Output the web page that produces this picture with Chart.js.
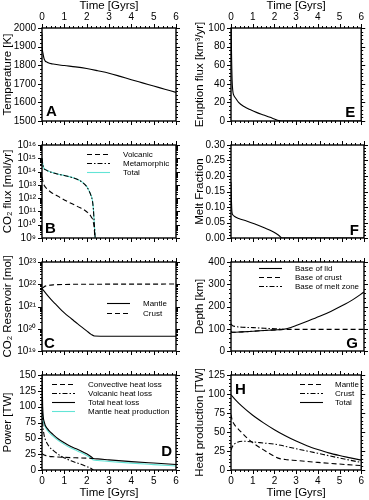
<!DOCTYPE html>
<html>
<head>
<meta charset="utf-8">
<script src="https://cdn.jsdelivr.net/npm/chart.js@4.4.1/dist/chart.umd.min.js"></script>
<style>
  html, body { margin: 0; padding: 0; background: #fff; }
  #fig { position: relative; width: 369px; height: 500px; overflow: hidden; background: #fff; }
</style>
</head>
<body>
<div id="fig"></div>
<script>
// ---- data ----

// A: mantle temperature [K]
var tempTime = [0, 0.01, 0.04, 0.1, 0.25, 0.5, 1, 1.5, 2, 2.5, 3, 3.5, 4, 4.5, 5, 5.5, 6];
var temperature = [1970, 1900, 1866, 1832, 1815, 1806, 1798, 1791, 1782, 1770, 1757, 1740, 1722, 1705, 1688, 1671, 1654];

// E: eruption flux [km3/yr]
var eruptTime = [0, 0.02, 0.05, 0.08, 0.12, 0.2, 0.35, 0.6, 0.9, 1.2, 1.5, 1.8, 2.0, 2.2, 2.3, 6];
var eruptionFlux = [130, 80, 45, 33, 28, 25, 20, 15.5, 12, 9, 6.5, 4, 2.2, 0.5, 0, 0];

// B: CO2 flux [mol/yr]
var co2Time = [0, 0.03, 0.08, 0.15, 0.4, 0.7, 1.0, 1.3, 1.6, 1.8, 2.0, 2.1, 2.2, 2.26, 2.3, 2.34, 2.38, 2.4];
var co2Metamorphic = [1e15, 4e14, 1.8e14, 1.4e14, 9e13, 6.5e13, 5e13, 3.8e13, 2.5e13, 1.6e13, 7.5e12, 3.8e12, 1.5e12, 6e11, 1.5e11, 1.2e10, 1e9, 1e8];
var co2Total = [1.04e15, 4.1e14, 1.85e14, 1.45e14, 9.3e13, 6.6e13, 5.1e13, 3.85e13, 2.52e13, 1.61e13, 7.6e12, 3.84e12, 1.54e12, 6.3e11, 1.6e11, 1.4e10, 1e9, 1e8];
var volcTime = [0, 0.05, 0.1, 0.2, 0.4, 0.75, 1.1, 1.6, 2.0, 2.2, 2.3, 2.35, 2.38];
var co2Volcanic = [4e13, 1.5e13, 9e12, 5.5e12, 2.8e12, 1.3e12, 6e11, 2.3e11, 9.5e10, 4e10, 1.5e10, 3e9, 1e8];

// F: melt fraction
var meltTime = [0, 0.02, 0.04, 0.08, 0.15, 0.35, 0.7, 1.05, 1.5, 1.9, 2.15, 2.3, 6];
var meltFraction = [0.18, 0.12, 0.085, 0.075, 0.07, 0.063, 0.055, 0.046, 0.033, 0.02, 0.009, 0, 0];

// C: CO2 reservoirs [mol]
var mantleResTime = [0, 0.2, 0.4, 0.6, 0.8, 1.0, 1.2, 1.4, 1.6, 1.8, 2.0, 2.2, 2.35, 3, 4, 5, 6];
var mantleCO2 = [6.4e21, 3.6e21, 2.1e21, 1.3e21, 8e20, 5.2e20, 3.5e20, 2.4e20, 1.65e20, 1.15e20, 8e19, 5.6e19, 4.7e19, 4.6e19, 4.6e19, 4.6e19, 4.6e19];
var crustResTime = [0, 0.1, 0.25, 0.5, 1, 2, 3, 6];
var crustCO2 = [6.4e21, 7.8e21, 8.7e21, 9.4e21, 9.8e21, 1e22, 1.01e22, 1.02e22];

// G: depths [km]
var lidTime = [0, 0.05, 0.5, 1, 1.5, 2, 2.35, 2.7, 3, 3.5, 4, 4.5, 5, 5.5, 6];
var lidDepth = [88, 84, 86, 89, 92, 95, 97, 106, 117, 136, 156, 178, 203, 231, 265];
var crustBaseTime = [0, 0.05, 0.5, 1, 1.5, 2, 2.35, 6];
var crustBase = [88, 84, 86, 89, 92, 95, 97, 97];
var meltZoneTime = [0, 0.05, 0.2, 0.5, 1, 1.5, 2, 2.35];
var meltZoneBase = [122, 115, 110, 107, 105, 102, 100, 97];

// D: power [TW]
var totalLossTime = [0, 0.03, 0.1, 0.25, 0.5, 0.75, 1.0, 1.25, 1.5, 1.75, 2.0, 2.2, 2.3, 2.5, 3, 4, 5, 6];
var totalHeatLoss = [160, 100, 76, 65, 56, 48.5, 43, 38, 34, 30, 25.5, 21, 18.2, 17.5, 16, 13.3, 11, 8.8];
var convTime = [0, 0.1, 0.25, 0.5, 1, 1.5, 2, 2.3];
var convectiveLoss = [26, 23.5, 22, 21, 20, 19.3, 18.7, 18.2];
var volcLossTime = [0, 0.03, 0.08, 0.15, 0.3, 0.5, 0.85, 1.3, 1.75, 2.0, 2.2, 2.3];
var volcanicLoss = [110, 75, 58, 48, 38, 31, 22, 14.5, 9, 5.5, 2.5, 0];
var mantleProdTime = [0, 0.05, 0.1, 0.25, 0.5, 0.75, 1, 1.25, 1.5, 1.75, 2, 2.2, 2.3, 2.5, 3, 4, 5, 6];
var mantleHeatProd = [100, 80, 72, 62, 53, 46, 40.5, 35.5, 31.5, 27.5, 23, 18.5, 15.8, 15, 13.5, 10.8, 8.5, 6.3];

// H: heat production [TW]
var heatTime = [0, 0.25, 0.5, 1, 1.5, 2, 2.5, 3, 3.5, 4, 4.5, 5, 5.5, 6];
var heatTotal = [99, 91, 84, 72, 62, 53, 45, 38, 32, 27, 22.5, 19, 16, 13];
var mantleHeatTime = [0, 0.05, 0.15, 0.3, 0.5, 0.75, 1, 1.25, 1.5, 1.75, 2, 2.25, 2.5, 3, 4, 5, 6];
var mantleHeat = [73, 66, 60, 55, 49, 42, 36, 31, 26.5, 22, 18, 15, 13.8, 12.5, 10, 7.8, 5.8];
var crustHeatTime = [0, 0.05, 0.15, 0.3, 0.6, 1, 1.5, 2, 2.3, 2.6, 3, 3.5, 4, 4.5, 5, 5.5, 6];
var crustHeat = [26, 30, 34, 36.5, 37.8, 37, 35.5, 34, 32.5, 30.5, 28, 25, 22, 18.8, 15.8, 12.8, 10];

// ---- styling / layout ----
var FONT = "'Liberation Sans', Arial, Helvetica, sans-serif";
Chart.defaults.font.family = FONT;
Chart.defaults.color = '#000';

var SOLID = [], DASH = [5, 3], DASHDOT = [5, 2, 1.5, 2];
var CYAN = '#62e4d6';
var SUP = '⁰¹²³⁴⁵⁶⁷⁸⁹';

var COLS = {
  L: { x0: 0, w: 185, left: 42, right: 176, titleX: 7.5 },
  R: { x0: 185, w: 184, left: 231, right: 364, titleX: 15 }
};
var ROWS = [
  { y0: 0, h: 133, top: 28, bottom: 125, x: 'top' },
  { y0: 133, h: 117, top: 140, bottom: 242 },
  { y0: 250, h: 113, top: 258, bottom: 355 },
  { y0: 363, h: 137, top: 371, bottom: 470, x: 'bottom' }
];

function pts(t, v) {
  return t.map(function (x, i) { return { x: x, y: v[i] }; });
}

function curve(label, t, v, dash, color) {
  return {
    label: label,
    data: pts(t, v),
    borderColor: color || '#000',
    borderWidth: 1.1,
    borderDash: dash,
    pointRadius: 0,
    fill: false,
    cubicInterpolationMode: 'monotone'
  };
}

function pow10Label(v) {
  var e = Math.round(Math.log10(v));
  return '10' + String(e).split('').map(function (c) { return SUP[+c]; }).join('');
}

function linTicks(min, max, step, sub) {
  var out = [], n = Math.round((max - min) / step * sub);
  for (var i = 0; i <= n; i++) out.push({ v: min + i * step / sub, major: i % sub === 0 });
  return out;
}

function logTicks(e0, e1) {
  var out = [];
  for (var e = e0; e <= e1; e++) {
    out.push({ v: Math.pow(10, e), major: true });
    if (e < e1) for (var k = 2; k <= 9; k++) out.push({ v: k * Math.pow(10, e), major: false });
  }
  return out;
}

// frame, outward ticks on all four sides, y title, panel letter and legend
var panelDecor = {
  id: 'panelDecor',
  afterDatasetsDraw: function (chart, args, o) {
    var ctx = chart.ctx, a = chart.chartArea, x = chart.scales.x, y = chart.scales.y;
    ctx.save();
    ctx.setLineDash([]);
    ctx.strokeStyle = '#000';
    ctx.lineWidth = 1;
    ctx.beginPath();
    for (var i = 0; i <= 30; i++) {
      var px = Math.round(x.getPixelForValue(i / 5)) + 0.5;
      var len = i % 5 ? 2 : 4;
      ctx.moveTo(px, a.top); ctx.lineTo(px, a.top - len);
      ctx.moveTo(px, a.bottom); ctx.lineTo(px, a.bottom + len);
    }
    o.yTicks.forEach(function (tk) {
      var py = Math.round(y.getPixelForValue(tk.v)) + 0.5;
      var len = tk.major ? 4 : 2;
      ctx.moveTo(a.left, py); ctx.lineTo(a.left - len, py);
      ctx.moveTo(a.right, py); ctx.lineTo(a.right + len, py);
    });
    ctx.stroke();
    ctx.lineWidth = 1.4;
    ctx.strokeRect(a.left, a.top, a.right - a.left, a.bottom - a.top);

    // y axis title (drawn here so it may run past the plot height)
    ctx.save();
    ctx.translate(o.titleX, (a.top + a.bottom) / 2);
    ctx.rotate(-Math.PI / 2);
    ctx.font = '11.5px ' + FONT;
    ctx.fillStyle = '#000';
    ctx.textAlign = 'center';
    ctx.textBaseline = 'middle';
    ctx.fillText(o.yTitle, 0, 0);
    ctx.restore();

    // panel letter
    var L = o.letter;
    ctx.font = 'bold 15px ' + FONT;
    ctx.fillStyle = '#000';
    ctx.textBaseline = 'alphabetic';
    ctx.textAlign = L.left !== undefined ? 'left' : 'right';
    var lx = L.left !== undefined ? a.left + L.left : a.right - L.right;
    var ly = L.bottom !== undefined ? a.bottom - L.bottom : a.top + L.top;
    ctx.fillText(L.t, lx, ly);

    // legend
    if (o.legend) {
      var lg = o.legend;
      ctx.font = '8px ' + FONT;
      ctx.textAlign = 'left';
      ctx.textBaseline = 'middle';
      lg.items.forEach(function (name, k) {
        var ds = chart.data.datasets.filter(function (d) { return d.label === name; })[0];
        var yy = Math.round(a.top + lg.y + k * lg.gap) + 0.5;
        ctx.beginPath();
        ctx.setLineDash(ds.borderDash);
        ctx.strokeStyle = ds.borderColor;
        ctx.lineWidth = ds.borderWidth;
        ctx.moveTo(a.left + lg.x, yy);
        ctx.lineTo(a.left + lg.x + 23, yy);
        ctx.stroke();
        ctx.setLineDash([]);
        ctx.fillStyle = '#000';
        ctx.fillText(name, a.left + lg.tx, yy);
      });
    }
    ctx.restore();
  }
};

function makePanel(col, row, p) {
  var C = COLS[col], R = ROWS[row];
  var cv = document.createElement('canvas');
  cv.width = C.w;
  cv.height = R.h;
  cv.style.cssText = 'position:absolute;left:' + C.x0 + 'px;top:' + R.y0 + 'px;width:' + C.w + 'px;height:' + R.h + 'px';
  document.getElementById('fig').appendChild(cv);

  var xTop = R.x === 'top', xBottom = R.x === 'bottom';
  var xh = xTop ? R.top - R.y0 : (xBottom ? R.y0 + R.h - R.bottom : 0);
  var yw = C.left - C.x0;

  var yScale = {
    type: p.log ? 'logarithmic' : 'linear',
    min: p.min,
    max: p.max,
    grid: { display: false, drawTicks: false },
    border: { display: false },
    ticks: {
      padding: 6,
      autoSkip: false,
      font: { size: 10 },
      stepSize: p.step,
      callback: p.fmt
    },
    afterFit: function (s) { s.width = yw; }
  };
  if (p.log) {
    yScale.afterBuildTicks = function (s) {
      var t = [];
      for (var e = Math.round(Math.log10(p.min)); e <= Math.round(Math.log10(p.max)); e++) t.push({ value: Math.pow(10, e) });
      s.ticks = t;
    };
  }

  return new Chart(cv, {
    type: 'line',
    data: { datasets: p.datasets },
    options: {
      responsive: false,
      animation: false,
      events: [],
      layout: {
        padding: {
          left: 0,
          right: C.x0 + C.w - C.right,
          top: xTop ? 0 : R.top - R.y0,
          bottom: xBottom ? 0 : R.y0 + R.h - R.bottom
        }
      },
      plugins: {
        legend: { display: false },
        tooltip: { enabled: false },
        panelDecor: {
          yTicks: p.yTicks,
          yTitle: p.yTitle,
          titleX: C.titleX,
          letter: p.letter,
          legend: p.legend
        }
      },
      scales: {
        x: {
          type: 'linear',
          position: xTop ? 'top' : 'bottom',
          min: 0,
          max: 6,
          grid: { display: false, drawTicks: false },
          border: { display: false },
          ticks: { display: xTop || xBottom, autoSkip: false, stepSize: 1, padding: 5, maxRotation: 0, font: { size: 10 } },
          title: {
            display: xTop || xBottom,
            text: 'Time [Gyrs]',
            font: { size: 11.5, lineHeight: 1 },
            padding: xTop ? { top: 0, bottom: 0 } : { top: 0, bottom: 1.25 }
          },
          afterFit: function (s) { s.height = xh; }
        },
        y: yScale
      }
    },
    plugins: [panelDecor]
  });
}

function intLabel(v) { return String(Math.round(v)); }

// A
makePanel('L', 0, {
  datasets: [curve('Temperature', tempTime, temperature, SOLID)],
  min: 1500, max: 2000, step: 100, fmt: intLabel,
  yTicks: linTicks(1500, 2000, 100, 5),
  yTitle: 'Temperature [K]',
  letter: { t: 'A', left: 4, bottom: 5 }
});

// E
makePanel('R', 0, {
  datasets: [curve('Eruption flux', eruptTime, eruptionFlux, SOLID)],
  min: 0, max: 100, step: 20, fmt: intLabel,
  yTicks: linTicks(0, 100, 20, 5),
  yTitle: 'Eruption flux [km³/yr]',
  letter: { t: 'E', right: 6, bottom: 4 }
});

// B
makePanel('L', 1, {
  datasets: [
    curve('Volcanic', volcTime, co2Volcanic, DASH),
    curve('Metamorphic', co2Time, co2Metamorphic, DASHDOT),
    curve('Total', co2Time, co2Total, SOLID, CYAN)
  ],
  log: true, min: 1e9, max: 1e16, fmt: pow10Label,
  yTicks: logTicks(9, 16),
  yTitle: 'CO₂ flux [mol/yr]',
  letter: { t: 'B', left: 3, bottom: 5 },
  legend: { items: ['Volcanic', 'Metamorphic', 'Total'], x: 45, tx: 81, y: 9, gap: 9 }
});

// F
makePanel('R', 1, {
  datasets: [curve('Melt fraction', meltTime, meltFraction, SOLID)],
  min: 0, max: 0.3, step: 0.05, fmt: function (v) { return v.toFixed(2); },
  yTicks: linTicks(0, 0.3, 0.05, 5),
  yTitle: 'Melt Fraction',
  letter: { t: 'F', right: 5, bottom: 3 }
});

// C
makePanel('L', 2, {
  datasets: [
    curve('Mantle', mantleResTime, mantleCO2, SOLID),
    curve('Crust', crustResTime, crustCO2, DASH)
  ],
  log: true, min: 1e19, max: 1e23, fmt: pow10Label,
  yTicks: logTicks(19, 23),
  yTitle: 'CO₂ Reservoir [mol]',
  letter: { t: 'C', left: 2, bottom: 3 },
  legend: { items: ['Mantle', 'Crust'], x: 65, tx: 101, y: 41, gap: 10 }
});

// G
makePanel('R', 2, {
  datasets: [
    curve('Base of lid', lidTime, lidDepth, SOLID),
    curve('Base of crust', crustBaseTime, crustBase, DASH),
    curve('Base of melt zone', meltZoneTime, meltZoneBase, DASHDOT)
  ],
  min: 0, max: 400, step: 100, fmt: intLabel,
  yTicks: linTicks(0, 400, 100, 5),
  yTitle: 'Depth [km]',
  letter: { t: 'G', right: 6, bottom: 3 },
  legend: { items: ['Base of lid', 'Base of crust', 'Base of melt zone'], x: 28, tx: 64, y: 6, gap: 9 }
});

// D
makePanel('L', 3, {
  datasets: [
    curve('Convective heat loss', convTime, convectiveLoss, DASH),
    curve('Volcanic heat loss', volcLossTime, volcanicLoss, DASHDOT),
    curve('Total heat loss', totalLossTime, totalHeatLoss, SOLID),
    curve('Mantle heat production', mantleProdTime, mantleHeatProd, SOLID, CYAN)
  ],
  min: 0, max: 150, step: 25, fmt: intLabel,
  yTicks: linTicks(0, 150, 25, 5),
  yTitle: 'Power [TW]',
  letter: { t: 'D', right: 4, bottom: 14 },
  legend: { items: ['Convective heat loss', 'Volcanic heat loss', 'Total heat loss', 'Mantle heat production'], x: 10, tx: 46, y: 9, gap: 9 }
});

// H
makePanel('R', 3, {
  datasets: [
    curve('Mantle', mantleHeatTime, mantleHeat, DASH),
    curve('Crust', crustHeatTime, crustHeat, DASHDOT),
    curve('Total', heatTime, heatTotal, SOLID)
  ],
  min: 0, max: 125, step: 25, fmt: intLabel,
  yTicks: linTicks(0, 125, 25, 5),
  yTitle: 'Heat production [TW]',
  letter: { t: 'H', left: 4, top: 19 },
  legend: { items: ['Mantle', 'Crust', 'Total'], x: 69, tx: 104, y: 9, gap: 9 }
});
</script>
</body>
</html>
